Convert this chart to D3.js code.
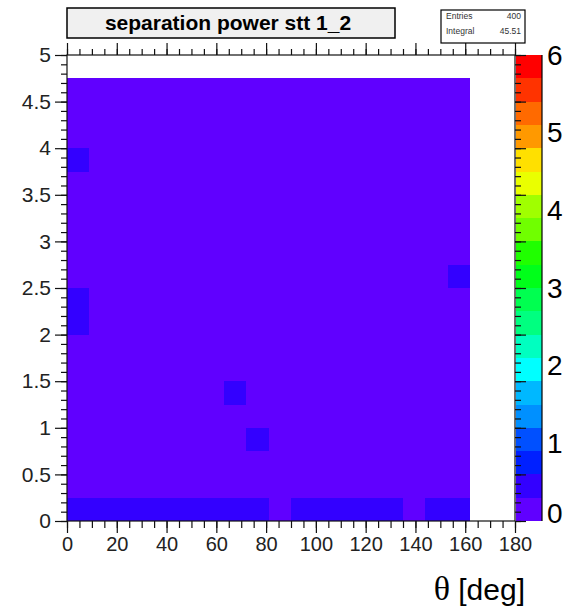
<!DOCTYPE html>
<html>
<head>
<meta charset="utf-8">
<script src="https://cdn.jsdelivr.net/npm/d3@7"></script>
<style>
  body { margin: 0; background: #fff; }
  text { font-family: "Liberation Sans", Arial, sans-serif; }
</style>
</head>
<body>
<div class="chart"></div>
<script>

// bin low edges (theta in deg, y axis)
var thetaBins = [0, 9, 18, 27, 36, 45, 54, 63, 72, 81, 90, 99, 108, 117, 126, 135, 144, 153];
var thetaBinWidth = 9;
var yBins = [0, 0.25, 0.5, 0.75, 1, 1.25, 1.5, 1.75, 2, 2.25, 2.5, 2.75, 3, 3.25, 3.5, 3.75, 4, 4.25, 4.5];
var yBinWidth = 0.25;

// cell contents, one row per y bin (bottom row first)
var cellValues = [
  [0.33, 0.33, 0.33, 0.33, 0.33, 0.33, 0.33, 0.33, 0.33, 0.12, 0.33, 0.33, 0.33, 0.33, 0.33, 0.12, 0.33, 0.33],
  [0.12, 0.12, 0.12, 0.12, 0.12, 0.12, 0.12, 0.12, 0.12, 0.12, 0.12, 0.12, 0.12, 0.12, 0.12, 0.12, 0.12, 0.12],
  [0.12, 0.12, 0.12, 0.12, 0.12, 0.12, 0.12, 0.12, 0.12, 0.12, 0.12, 0.12, 0.12, 0.12, 0.12, 0.12, 0.12, 0.12],
  [0.12, 0.12, 0.12, 0.12, 0.12, 0.12, 0.12, 0.12, 0.33, 0.12, 0.12, 0.12, 0.12, 0.12, 0.12, 0.12, 0.12, 0.12],
  [0.12, 0.12, 0.12, 0.12, 0.12, 0.12, 0.12, 0.12, 0.12, 0.12, 0.12, 0.12, 0.12, 0.12, 0.12, 0.12, 0.12, 0.12],
  [0.12, 0.12, 0.12, 0.12, 0.12, 0.12, 0.12, 0.33, 0.12, 0.12, 0.12, 0.12, 0.12, 0.12, 0.12, 0.12, 0.12, 0.12],
  [0.12, 0.12, 0.12, 0.12, 0.12, 0.12, 0.12, 0.12, 0.12, 0.12, 0.12, 0.12, 0.12, 0.12, 0.12, 0.12, 0.12, 0.12],
  [0.12, 0.12, 0.12, 0.12, 0.12, 0.12, 0.12, 0.12, 0.12, 0.12, 0.12, 0.12, 0.12, 0.12, 0.12, 0.12, 0.12, 0.12],
  [0.33, 0.12, 0.12, 0.12, 0.12, 0.12, 0.12, 0.12, 0.12, 0.12, 0.12, 0.12, 0.12, 0.12, 0.12, 0.12, 0.12, 0.12],
  [0.33, 0.12, 0.12, 0.12, 0.12, 0.12, 0.12, 0.12, 0.12, 0.12, 0.12, 0.12, 0.12, 0.12, 0.12, 0.12, 0.12, 0.12],
  [0.12, 0.12, 0.12, 0.12, 0.12, 0.12, 0.12, 0.12, 0.12, 0.12, 0.12, 0.12, 0.12, 0.12, 0.12, 0.12, 0.12, 0.33],
  [0.12, 0.12, 0.12, 0.12, 0.12, 0.12, 0.12, 0.12, 0.12, 0.12, 0.12, 0.12, 0.12, 0.12, 0.12, 0.12, 0.12, 0.12],
  [0.12, 0.12, 0.12, 0.12, 0.12, 0.12, 0.12, 0.12, 0.12, 0.12, 0.12, 0.12, 0.12, 0.12, 0.12, 0.12, 0.12, 0.12],
  [0.12, 0.12, 0.12, 0.12, 0.12, 0.12, 0.12, 0.12, 0.12, 0.12, 0.12, 0.12, 0.12, 0.12, 0.12, 0.12, 0.12, 0.12],
  [0.12, 0.12, 0.12, 0.12, 0.12, 0.12, 0.12, 0.12, 0.12, 0.12, 0.12, 0.12, 0.12, 0.12, 0.12, 0.12, 0.12, 0.12],
  [0.33, 0.12, 0.12, 0.12, 0.12, 0.12, 0.12, 0.12, 0.12, 0.12, 0.12, 0.12, 0.12, 0.12, 0.12, 0.12, 0.12, 0.12],
  [0.12, 0.12, 0.12, 0.12, 0.12, 0.12, 0.12, 0.12, 0.12, 0.12, 0.12, 0.12, 0.12, 0.12, 0.12, 0.12, 0.12, 0.12],
  [0.12, 0.12, 0.12, 0.12, 0.12, 0.12, 0.12, 0.12, 0.12, 0.12, 0.12, 0.12, 0.12, 0.12, 0.12, 0.12, 0.12, 0.12],
  [0.12, 0.12, 0.12, 0.12, 0.12, 0.12, 0.12, 0.12, 0.12, 0.12, 0.12, 0.12, 0.12, 0.12, 0.12, 0.12, 0.12, 0.12]
];

var xTickLabels = [0, 20, 40, 60, 80, 100, 120, 140, 160, 180];
var yTickLabels = [0, 0.5, 1, 1.5, 2, 2.5, 3, 3.5, 4, 4.5, 5];
var zTickLabels = [0, 1, 2, 3, 4, 5, 6];
var zContours = [0, 0.3, 0.6, 0.9, 1.2, 1.5, 1.8, 2.1, 2.4, 2.7, 3, 3.3, 3.6, 3.9, 4.2, 4.5, 4.8, 5.1, 5.4, 5.7, 6];
var palette = ["#6000ff", "#3300ff", "#0020ff", "#0050ff", "#0090ff", "#00b8ff", "#00ffff", "#00ffc0",
               "#00ff80", "#00ff50", "#00ff1a", "#20ff00", "#70ff00", "#a0ff00", "#eaff00", "#ffe000",
               "#ff9900", "#ff6a00", "#ff3300", "#ff0000"];

var title = "separation power stt 1_2";
var statsEntries = "400";
var statsIntegral = "45.51";

var width = 577, height = 608;
var frameLeft = 67, frameRight = 515, frameTop = 55, frameBottom = 521;

var svg = d3.select('.chart')
    .append('svg')
    .attr('width', width)
    .attr('height', height);

var scaleX = d3.scaleLinear().domain([0, 180]).range([frameLeft, frameRight]);
var scaleY = d3.scaleLinear().domain([0, 5]).range([frameBottom, frameTop]);
var scaleZ = d3.scaleLinear().domain([0, 6]).range([frameBottom, frameTop]);
var color = d3.scaleThreshold()
    .domain(zContours.slice(1, -1))
    .range(palette);

// cells
var cells = [];
cellValues.forEach((row, j) => {
    row.forEach((v, i) => {
        cells.push({ x: thetaBins[i], y: yBins[j], v: v });
    });
});

svg.append('g')
    .selectAll('rect')
    .data(cells)
    .enter()
    .append('rect')
    .attr('x', d => scaleX(d.x))
    .attr('y', d => scaleY(d.y + yBinWidth))
    .attr('width', d => scaleX(d.x + thetaBinWidth) - scaleX(d.x))
    .attr('height', d => scaleY(d.y) - scaleY(d.y + yBinWidth))
    .attr('fill', d => color(d.v))
    .attr('shape-rendering', 'crispEdges');

// palette
var bands = zContours.slice(0, -1).map((z, i) => ({ lo: z, hi: zContours[i + 1] }));
svg.append('g')
    .selectAll('rect')
    .data(bands)
    .enter()
    .append('rect')
    .attr('x', 516)
    .attr('y', d => scaleZ(d.hi))
    .attr('width', 26)
    .attr('height', d => scaleZ(d.lo) - scaleZ(d.hi))
    .attr('fill', d => color(d.lo + 0.01))
    .attr('shape-rendering', 'crispEdges');

svg.append('line')
    .attr('x1', 542).attr('x2', 542)
    .attr('y1', frameTop).attr('y2', frameBottom)
    .attr('stroke', '#000').attr('stroke-width', 1.2);

svg.append('g')
    .selectAll('text')
    .data(zTickLabels)
    .enter()
    .append('text')
    .attr('x', 547)
    .attr('y', d => Math.min(scaleZ(d), frameBottom - 8))
    .attr('dy', '0.35em')
    .style('font-size', '28px')
    .attr('fill', '#000')
    .text(d => d);

// frame + axes
function styleAxis(g, size) {
    g.select('.domain').remove();
    g.selectAll('line').attr('stroke', '#111').attr('stroke-width', 1.2);
    g.selectAll('text').attr('fill', '#222').style('font-size', (size || 20) + 'px')
        .style('font-family', '"Liberation Sans", Arial, sans-serif');
}

var minorX = d3.range(0, 181, 5);
var minorY = d3.range(0, 51, 1).map(d => d / 10);

svg.append('g').attr('transform', 'translate(0,' + frameBottom + ')')
    .call(d3.axisBottom(scaleX).tickValues(minorX).tickSize(7).tickFormat(''))
    .call(styleAxis);
svg.append('g').attr('transform', 'translate(0,' + frameBottom + ')')
    .call(d3.axisBottom(scaleX).tickValues(xTickLabels).tickSize(12).tickPadding(4).tickFormat(d => d))
    .call(styleAxis, 20);

svg.append('g').attr('transform', 'translate(0,' + frameTop + ')')
    .call(d3.axisTop(scaleX).tickValues(minorX).tickSize(6).tickFormat(''))
    .call(styleAxis);
svg.append('g').attr('transform', 'translate(0,' + frameTop + ')')
    .call(d3.axisTop(scaleX).tickValues(xTickLabels).tickSize(12).tickFormat(''))
    .call(styleAxis);

svg.append('g').attr('transform', 'translate(' + frameLeft + ',0)')
    .call(d3.axisLeft(scaleY).tickValues(minorY).tickSize(6).tickFormat(''))
    .call(styleAxis);
svg.append('g').attr('transform', 'translate(' + frameLeft + ',0)')
    .call(d3.axisLeft(scaleY).tickValues(yTickLabels).tickSize(12).tickPadding(4).tickFormat(d => d))
    .call(styleAxis, 21);

svg.append('g').attr('transform', 'translate(' + frameRight + ',0)')
    .call(d3.axisRight(scaleY).tickValues(minorY).tickSize(6).tickFormat(''))
    .call(styleAxis);
svg.append('g').attr('transform', 'translate(' + frameRight + ',0)')
    .call(d3.axisRight(scaleY).tickValues(yTickLabels).tickSize(11).tickFormat(''))
    .call(styleAxis);

svg.append('rect')
    .attr('x', frameLeft).attr('y', frameTop)
    .attr('width', frameRight - frameLeft).attr('height', frameBottom - frameTop)
    .attr('fill', 'none')
    .attr('stroke', '#111')
    .attr('stroke-width', 1.2);

// axis title
var xt = svg.append('text')
    .attr('x', 525)
    .attr('y', 600)
    .style('text-anchor', 'end')
    .style('font-size', '30px')
    .attr('fill', '#000');
xt.append('tspan').style('font-family', '"Liberation Serif", "Times New Roman", serif')
    .style('font-size', '34px').text('\u03b8');
xt.append('tspan').text(' [deg]');

// title box
svg.append('rect')
    .attr('x', 67).attr('y', 8)
    .attr('width', 328).attr('height', 30)
    .attr('fill', '#f0f0f0')
    .attr('stroke', '#000')
    .attr('stroke-width', 1.5);
svg.append('text')
    .attr('x', 228).attr('y', 30)
    .style('text-anchor', 'middle')
    .style('font-size', '21px')
    .style('font-weight', 'bold')
    .attr('fill', '#000')
    .text(title);

// stats box
svg.append('rect')
    .attr('x', 441).attr('y', 10)
    .attr('width', 84).attr('height', 33)
    .attr('fill', '#fff')
    .attr('stroke', '#000')
    .attr('stroke-width', 1.2);
var stats = [["Entries", statsEntries, 19], ["Integral", statsIntegral, 34]];
stats.forEach(s => {
    svg.append('text').attr('x', 446).attr('y', s[2])
        .style('font-size', '8.5px').attr('fill', '#333').text(s[0]);
    svg.append('text').attr('x', 521).attr('y', s[2])
        .style('font-size', '8.5px').style('text-anchor', 'end').attr('fill', '#333').text(s[1]);
});

</script>
</body>
</html>
